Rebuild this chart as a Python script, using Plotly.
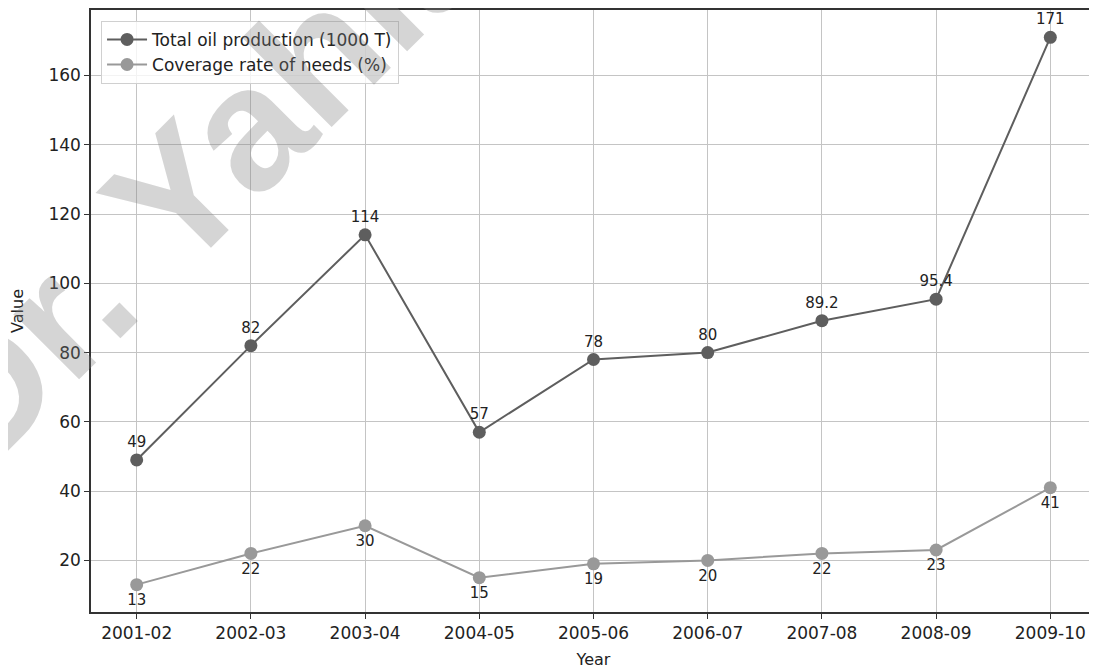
import plotly.graph_objects as go

years = ["2001-02", "2002-03", "2003-04", "2004-05", "2005-06",
         "2006-07", "2007-08", "2008-09", "2009-10"]
oil_production = [49, 82, 114, 57, 78, 80, 89.2, 95.4, 171]
coverage_rate = [13, 22, 30, 15, 19, 20, 22, 23, 41]
oil_labels = ["49", "82", "114", "57", "78", "80", "89.2", "95.4", "171"]
cov_labels = ["13", "22", "30", "15", "19", "20", "22", "23", "41"]
y_ticks = [20, 40, 60, 80, 100, 120, 140, 160]

FONT = "DejaVu Sans"
xidx = list(range(len(years)))

fig = go.Figure()
fig.add_trace(go.Scatter(
    x=xidx, y=oil_production, mode="lines+markers+text",
    name="Total oil production (1000 T)",
    line=dict(color="#5e5e5e", width=2),
    marker=dict(color="#5e5e5e", size=13),
    text=oil_labels, textposition="top center",
    textfont=dict(family=FONT, size=15, color="#222"),
))
fig.add_trace(go.Scatter(
    x=xidx, y=coverage_rate, mode="lines+markers+text",
    name="Coverage rate of needs (%)",
    line=dict(color="#999999", width=2),
    marker=dict(color="#999999", size=13),
    text=cov_labels, textposition="bottom center",
    textfont=dict(family=FONT, size=15, color="#222"),
))

fig.add_annotation(
    text="<b>Dr. Yahia</b>", xref="paper", yref="paper",
    x=0.1079, y=0.729, xanchor="center", yanchor="middle",
    textangle=-45, showarrow=False,
    font=dict(family="Liberation Sans", size=175, color="rgba(128,128,128,0.33)"),
)

fig.update_layout(
    width=1089, height=663,
    margin=dict(l=83, r=1, t=2, b=59, autoexpand=False),
    paper_bgcolor="white", plot_bgcolor="white",
    font=dict(family=FONT, size=16, color="#222"),
    showlegend=True,
    legend=dict(x=0.01, y=0.982, xanchor="left", yanchor="top",
                bgcolor="rgba(255,255,255,0.8)", bordercolor="#d0d0d0",
                borderwidth=1, font=dict(family=FONT, size=17, color="#222"),
                itemwidth=40),
)
fig.update_xaxes(
    range=[-0.4, 8.4], tickmode="array", tickvals=xidx, ticktext=years,
    showgrid=True, gridcolor="#c4c4c4", gridwidth=1,
    showline=True, linecolor="#333", linewidth=1.5, mirror=True,
    ticks="outside", ticklen=5, tickcolor="#333", zeroline=False,
    automargin=False,
    title=dict(text="Year", font=dict(family=FONT, size=16), standoff=12),
    tickfont=dict(family=FONT, size=17),
)
fig.update_yaxes(
    range=[5.1, 178.9], tickmode="array", tickvals=y_ticks,
    showgrid=True, gridcolor="#c4c4c4", gridwidth=1,
    showline=True, linecolor="#333", linewidth=1.5, mirror=True,
    ticks="outside", ticklen=5, tickcolor="#333", zeroline=False,
    automargin=False,
    title=dict(text="Value", font=dict(family=FONT, size=16), standoff=22),
    tickfont=dict(family=FONT, size=17),
)

fig.write_html("out.html")
